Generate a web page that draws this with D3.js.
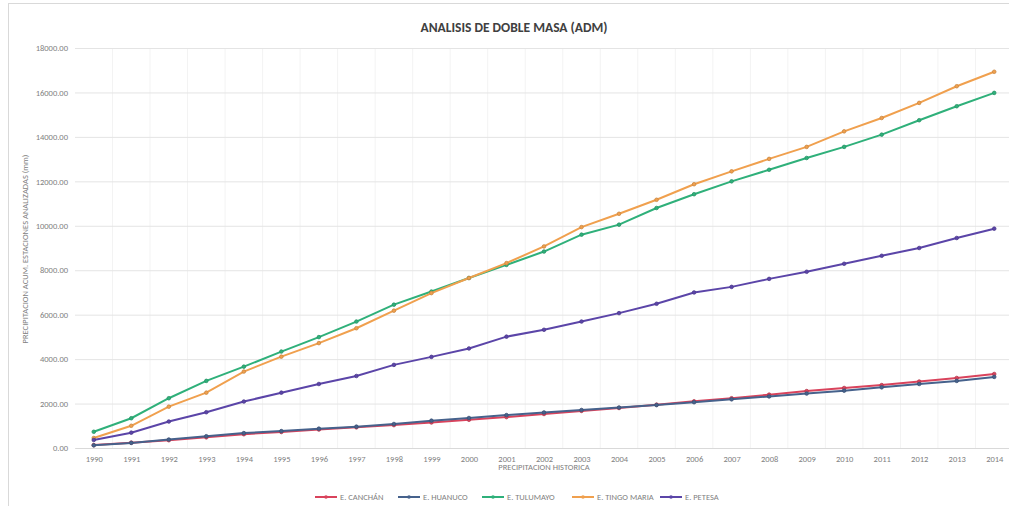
<!DOCTYPE html>
<html><head><meta charset="utf-8">
<script src="https://cdn.jsdelivr.net/npm/d3@7"></script>
<style>body{margin:0;background:#fff}svg{display:block}text{font-family:Calibri,"Liberation Sans",Arial,sans-serif}</style>
</head><body><svg id="c" width="1009" height="506"></svg>
<script>
const years = ["1990","1991","1992","1993","1994","1995","1996","1997","1998","1999","2000","2001","2002","2003","2004","2005","2006","2007","2008","2009","2010","2011","2012","2013","2014"];
const yTicks = [0,2000,4000,6000,8000,10000,12000,14000,16000,18000];
const seriesNames = ["E. CANCHÁN","E. HUANUCO","E. TULUMAYO","E. TINGO MARIA","E. PETESA"];
const canchan   = [130,240,350,480,620,720,830,930,1030,1150,1270,1390,1530,1670,1800,1950,2100,2240,2400,2560,2700,2830,2990,3150,3330];
const huanuco   = [120,230,380,530,670,760,870,960,1080,1230,1350,1480,1600,1710,1820,1930,2060,2190,2320,2450,2580,2730,2880,3020,3200];
const tulumayo  = [730,1340,2240,3020,3660,4340,4990,5690,6450,7040,7650,8240,8840,9600,10050,10800,11420,12000,12520,13050,13550,14100,14750,15380,15980];
const tingo     = [450,1000,1860,2490,3440,4110,4720,5390,6180,6970,7650,8320,9070,9940,10540,11170,11870,12450,13010,13550,14250,14850,15530,16280,16930];
const petesa    = [360,690,1190,1610,2090,2490,2880,3240,3740,4100,4480,5010,5320,5690,6070,6490,7000,7250,7610,7930,8290,8650,9000,9450,9870];
const colors = ["#d9435c","#46628c","#2fb07a","#f0a04e","#5b45a8"];
const allSeries = [canchan,huanuco,tulumayo,tingo,petesa];

const svg = d3.select("#c");
const L=75,R=1013,T=48,B=448;
const x = d3.scalePoint().domain(years).range([L,R]).padding(0.5);
const y = d3.scaleLinear().domain([0,18000]).range([B,T]);

svg.append("rect").attr("x",8.5).attr("y",3.5).attr("width",1010).attr("height",510).attr("fill","none").attr("stroke","#d9d9d9");

const step = x.step();
const gv = svg.append("g");
years.forEach((yr,i)=>{ if(i>0) gv.append("line").attr("x1",x(yr)-step/2).attr("x2",x(yr)-step/2).attr("y1",T).attr("y2",B).attr("stroke","#f3f3f3"); });
const yAxis = d3.axisLeft(y).tickValues(yTicks).tickFormat(d3.format(".2f")).tickSize(-(R-L)).tickPadding(7);
const gy = svg.append("g").attr("transform",`translate(${L},0)`).call(yAxis);
gy.select(".domain").remove();
gy.selectAll(".tick line").attr("stroke","#e4e4e4");
gy.selectAll(".tick text").attr("fill","#7f7f7f").style("font-size","8.5px");

const xAxis = d3.axisBottom(x).tickSize(0).tickPadding(8);
const gx = svg.append("g").attr("transform",`translate(0,${B})`).call(xAxis);
gx.select(".domain").attr("stroke","#d9d9d9");
gx.selectAll(".tick text").attr("fill","#7f7f7f").style("font-size","8.5px");

const line = d3.line().x((d,i)=>x(years[i])).y(d=>y(d));
allSeries.forEach((s,k)=>{
  svg.append("path").datum(s).attr("d",line).attr("fill","none").attr("stroke",colors[k]).attr("stroke-width",2);
  svg.append("g").selectAll("circle").data(s).join("circle")
    .attr("cx",(d,i)=>x(years[i])).attr("cy",d=>y(d)).attr("r",1.8).attr("fill",colors[k]).attr("stroke",d3.color(colors[k]).darker(0.5)).attr("stroke-width",0.8);
});

svg.append("text").attr("x",514).attr("y",32).attr("text-anchor","middle").attr("font-weight","bold").style("font-size","13.5px").attr("fill","#404040").text("ANALISIS DE DOBLE MASA (ADM)");
svg.append("text").attr("x",(L+R)/2).attr("y",470).attr("text-anchor","middle").style("font-size","8.5px").attr("fill","#7f7f7f").text("PRECIPITACION HISTORICA");
svg.append("text").attr("transform","translate(28,249) rotate(-90)").attr("text-anchor","middle").style("font-size","8.5px").attr("fill","#7f7f7f").text("PRECIPITACION ACUM. ESTACIONES ANALIZADAS (mm)");

const legX = [315,398,482,572,660];
const lg = svg.append("g");
seriesNames.forEach((n,k)=>{
  const g = lg.append("g").attr("transform",`translate(${legX[k]},497)`);
  g.append("line").attr("x1",0).attr("x2",22).attr("stroke",colors[k]).attr("stroke-width",2);
  g.append("circle").attr("cx",11).attr("r",1.8).attr("fill",colors[k]);
  g.append("text").attr("x",25).attr("y",3).style("font-size","8.5px").attr("fill","#7f7f7f").text(n);
});
</script></body></html>
